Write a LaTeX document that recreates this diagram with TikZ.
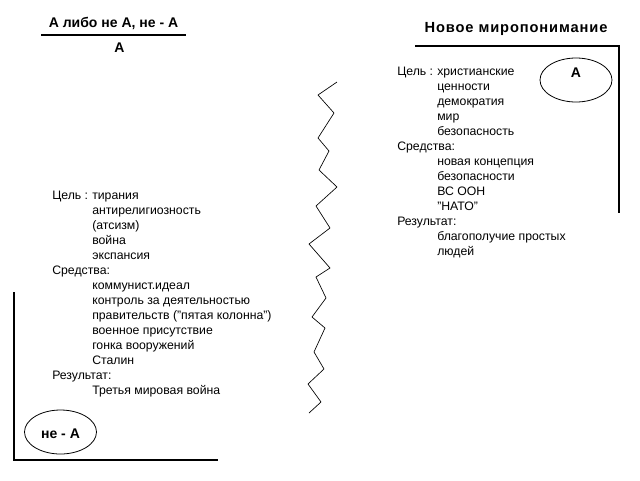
\documentclass[tikz,border=0pt]{standalone}
\usepackage{fontspec}
\setmainfont{Liberation Sans}
\usetikzlibrary{shapes.geometric}

\begin{document}
\begin{tikzpicture}[x=0.75pt,y=-0.75pt]
		\tikzset{txt/.style={anchor=base west,inner sep=0pt,font=\fontsize{9.2}{11}\selectfont}};
		\tikzset{head/.style={anchor=base,inner sep=0pt,font=\fontsize{10.5}{12}\bfseries\selectfont}};
		\tikzset{oval/.style={draw,ellipse,inner sep=0pt,minimum width=54pt,minimum height=33pt,line width=0.6pt}};
		\useasboundingbox (0,0) rectangle (640,480);
		
		% title fraction
		\node[head] (top) at (113.5,27) {А либо не А, не - А};
		\draw[line width=1.5pt] (41,34.5) -- (186,34.5);
		\node[head] (bottom) at (119.5,52.3) {А};
		\node[head] (title) at (516,32.7) {\fontsize{11}{13}\selectfont\addfontfeature{LetterSpace=6}Новое миропонимание};
		
		% frames
		\draw[line width=0.9pt] (415,46) -- (619,46) -- (619,213);
		\draw[line width=0.9pt] (14,292) -- (14,460) -- (218,460);
		
		% zigzag
		\draw[line width=0.5pt] (337,82) -- (318,95) -- (334,113) -- (318,138) -- (329,151) -- (319,170) -- (337,187) -- (316,206) -- (330,228) -- (309,244) -- (330,268) -- (316,277) -- (326,298) -- (312,317) -- (325,328) -- (314,352) -- (324,369) -- (308,384) -- (321,402) -- (309,413);
		
		% ovals
		\node[oval] (ovalA) at (576,80) {};
		\node[head] (textA) at (576,77.5) {А};
		\node[oval] (ovalNotA) at (60.5,432) {};
		\node[head] (textNotA) at (60.5,438) {не - А};
		
		% left list
		\node[txt] (lGoal) at (52,199) {Цель :};
		\node[txt] (lG1) at (92,199) {тирания};
		\node[txt] (lG2) at (92,214) {антирелигиозность};
		\node[txt] (lG3) at (92,229) {(атсизм)};
		\node[txt] (lG4) at (92,244) {война};
		\node[txt] (lG5) at (92,259) {экспансия};
		\node[txt] (lMeans) at (52,274) {Средства:};
		\node[txt] (lM1) at (92,289) {коммунист.идеал};
		\node[txt] (lM2) at (92,304) {контроль за деятельностью};
		\node[txt] (lM3) at (92,319) {правительств ("пятая колонна")};
		\node[txt] (lM4) at (92,334) {военное присутствие};
		\node[txt] (lM5) at (92,349) {гонка вооружений};
		\node[txt] (lM6) at (92,364) {Сталин};
		\node[txt] (lResult) at (52,379) {Результат:};
		\node[txt] (lR1) at (92,394) {Третья мировая война};
		
		% right list
		\node[txt] (rGoal) at (397,75) {Цель :};
		\node[txt] (rG1) at (437,75) {христианские};
		\node[txt] (rG2) at (437,90) {ценности};
		\node[txt] (rG3) at (437,105) {демократия};
		\node[txt] (rG4) at (437,120) {мир};
		\node[txt] (rG5) at (437,135) {безопасность};
		\node[txt] (rMeans) at (397,150) {Средства:};
		\node[txt] (rM1) at (437,165) {новая концепция};
		\node[txt] (rM2) at (437,180) {безопасности};
		\node[txt] (rM3) at (437,195) {ВС ООН};
		\node[txt] (rM4) at (437,210) {"НАТО"};
		\node[txt] (rResult) at (397,225) {Результат:};
		\node[txt] (rR1) at (437,240) {благополучие простых};
		\node[txt] (rR2) at (437,255) {людей};
		
	\end{tikzpicture}
\end{document}
